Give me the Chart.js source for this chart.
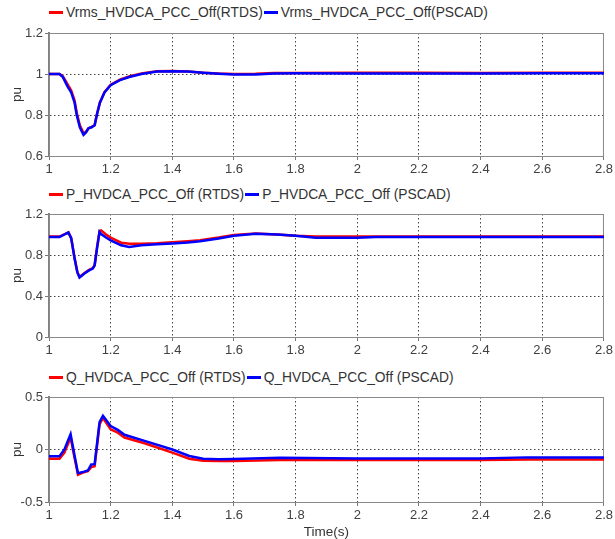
<!DOCTYPE html>
<html lang="en">
<head>
<meta charset="UTF-8">
<title>HVDCA PCC Off</title>
<script src="https://cdn.jsdelivr.net/npm/chart.js@4.4.1/dist/chart.umd.min.js"></script>
<style>
    body { margin: 0; background: #fff; width: 615px; height: 539px; position: relative; overflow: hidden;
        font-family: "Liberation Sans", Arial, sans-serif; }
    canvas { position: absolute; left: 0; }
    .legend { position: absolute; left: 49px; font-size: 13.8px; color: #333; white-space: nowrap; line-height: 16px; }
    .legend .sw { display: inline-block; width: 14px; height: 3px; vertical-align: middle; margin-right: 3px; margin-top: -2px; }
</style>
</head>
<body>
<div class="legend" id="leg1" style="top:5px;"></div>
<div class="legend" id="leg2" style="top:187px;"></div>
<div class="legend" id="leg3" style="top:370px;"></div>
<canvas id="c1" width="615" height="186" style="top:0px;"></canvas>
<canvas id="c2" width="615" height="181" style="top:186px;"></canvas>
<canvas id="c3" width="615" height="172" style="top:367px;"></canvas>

<script>
// Vrms
const tV = [1.00, 1.034, 1.045, 1.06, 1.072, 1.083, 1.09, 1.10, 1.112, 1.12, 1.128, 1.138, 1.148, 1.155, 1.165, 1.18, 1.20, 1.23, 1.26, 1.30, 1.35, 1.40, 1.45, 1.50, 1.55, 1.60, 1.67, 1.73, 1.80, 2.00, 2.20, 2.40, 2.60, 2.80];
const vRtds = [1.0, 1.0, 0.988, 0.95, 0.92, 0.87, 0.81, 0.75, 0.712, 0.718, 0.735, 0.742, 0.75, 0.80, 0.86, 0.912, 0.948, 0.972, 0.988, 1.003, 1.013, 1.015, 1.012, 1.006, 1.002, 1.0, 1.001, 1.005, 1.005, 1.006, 1.006, 1.005, 1.006, 1.006];
const vPscad = [1.0, 1.0, 0.985, 0.94, 0.91, 0.86, 0.80, 0.74, 0.703, 0.715, 0.735, 0.74, 0.75, 0.80, 0.86, 0.91, 0.945, 0.97, 0.985, 1.0, 1.012, 1.014, 1.012, 1.006, 1.001, 0.997, 0.998, 1.003, 1.004, 1.003, 1.003, 1.003, 1.004, 1.004];

// P
const tP = [1.00, 1.034, 1.063, 1.072, 1.083, 1.092, 1.099, 1.115, 1.13, 1.142, 1.148, 1.156, 1.164, 1.169, 1.185, 1.20, 1.234, 1.26, 1.30, 1.35, 1.40, 1.45, 1.49, 1.55, 1.60, 1.67, 1.74, 1.80, 1.865, 2.00, 2.06, 2.20, 2.40, 2.60, 2.80];
const pRtds = [0.98, 0.98, 1.02, 0.965, 0.77, 0.635, 0.585, 0.625, 0.655, 0.672, 0.70, 0.88, 1.035, 1.04, 1.0, 0.97, 0.92, 0.91, 0.91, 0.915, 0.924, 0.935, 0.945, 0.97, 0.995, 1.01, 1.0, 0.987, 0.98, 0.98, 0.98, 0.98, 0.98, 0.98, 0.98];
const pPscad = [0.975, 0.975, 1.02, 0.965, 0.765, 0.63, 0.58, 0.62, 0.65, 0.667, 0.70, 0.87, 1.025, 1.005, 0.97, 0.943, 0.895, 0.878, 0.895, 0.905, 0.913, 0.922, 0.935, 0.96, 0.987, 1.008, 1.0, 0.987, 0.968, 0.968, 0.975, 0.975, 0.975, 0.975, 0.975];

// Q
const tQ = [1.00, 1.034, 1.05, 1.07, 1.083, 1.094, 1.11, 1.126, 1.137, 1.148, 1.164, 1.175, 1.20, 1.223, 1.245, 1.31, 1.40, 1.455, 1.50, 1.55, 1.60, 1.75, 2.00, 2.20, 2.40, 2.55, 2.80];
const qRtds = [-0.087, -0.087, -0.03, 0.114, -0.08, -0.24, -0.22, -0.207, -0.168, -0.16, 0.24, 0.30, 0.192, 0.16, 0.114, 0.06, -0.03, -0.088, -0.106, -0.11, -0.11, -0.10, -0.10, -0.10, -0.10, -0.095, -0.095];
const qPscad = [-0.064, -0.064, 0.0, 0.146, -0.06, -0.225, -0.215, -0.20, -0.143, -0.14, 0.26, 0.32, 0.224, 0.187, 0.14, 0.082, 0.0, -0.062, -0.088, -0.094, -0.09, -0.079, -0.085, -0.085, -0.085, -0.075, -0.075];

const labelsV = ['Vrms_HVDCA_PCC_Off(RTDS)', 'Vrms_HVDCA_PCC_Off(PSCAD)'];
const labelsP = ['P_HVDCA_PCC_Off (RTDS)', 'P_HVDCA_PCC_Off (PSCAD)'];
const labelsQ = ['Q_HVDCA_PCC_Off (RTDS)', 'Q_HVDCA_PCC_Off (PSCAD)'];

const RED = '#ff0000';
const BLUE = '#0000ff';
const FONT = '"Liberation Sans", Arial, sans-serif';

const frame = {
    id: 'frame',
    beforeDatasetsDraw(chart) {
        const a = chart.chartArea, ctx = chart.ctx;
        ctx.save();
        ctx.strokeStyle = '#8a8a8a';
        ctx.lineWidth = 1;
        ctx.strokeRect(a.left + 0.5, a.top + 0.5, a.right - a.left - 1, a.bottom - a.top);
        ctx.restore();
    }
};

function pts(t, v) {
    return t.map((x, i) => ({ x: x, y: v[i] }));
}

function fmt(v) {
    return String(+v.toFixed(2));
}

function makeChart(id, legId, t, red, blue, labels, ymin, ymax, ystep, padTop, xHeight, showTime) {
    // blue (PSCAD) is drawn over red (RTDS): lower order = drawn later
    const datasets = [
        { label: labels[0], data: pts(t, red), borderColor: RED, order: 2 },
        { label: labels[1], data: pts(t, blue), borderColor: BLUE, order: 1 }
    ];
    document.getElementById(legId).innerHTML = datasets.map((d, i) =>
        `<span class="sw" style="background:${d.borderColor};${i ? 'margin-left:1px' : ''}"></span>${d.label}`).join('');

    const grid = { color: '#444', lineWidth: 1, tickLength: 4, tickColor: '#777', tickBorderDash: [] };
    new Chart(document.getElementById(id), {
        type: 'line',
        data: { datasets: datasets },
        options: {
            responsive: false,
            animation: false,
            layout: { padding: { top: padTop, right: 10, left: 0, bottom: 0 } },
            elements: {
                point: { radius: 0 },
                line: { borderWidth: 2.5, tension: 0, fill: false }
            },
            plugins: { legend: { display: false }, tooltip: { enabled: false } },
            scales: {
                x: {
                    type: 'linear', min: 1, max: 2.8,
                    ticks: { stepSize: 0.2, color: '#404040', padding: 2, maxRotation: 0, callback: fmt,
                        font: { family: FONT, size: 13 } },
                    grid: grid,
                    border: { display: true, color: '#8a8a8a', width: 1, dash: [1.5, 2.5] },
                    title: { display: showTime, text: 'Time(s)', color: '#333', padding: 0,
                        font: { family: FONT, size: 13.5, lineHeight: 1 } },
                    afterFit(scale) { scale.height = xHeight; }
                },
                y: {
                    min: ymin, max: ymax,
                    ticks: { stepSize: ystep, color: '#404040', padding: 2, callback: fmt,
                        font: { family: FONT, size: 13 } },
                    grid: grid,
                    border: { display: true, color: '#808080', width: 2, dash: [1.5, 2.5] },
                    title: { display: true, text: 'pu', color: '#333', padding: { top: 11, bottom: 0 },
                        font: { family: FONT, size: 13.5, lineHeight: 1 } },
                    afterFit(scale) { scale.width = 49; }
                }
            }
        },
        plugins: [frame]
    });
}

makeChart('c1', 'leg1', tV, vRtds, vPscad, labelsV, 0.6, 1.2, 0.2, 33, 30, false);
makeChart('c2', 'leg2', tP, pRtds, pPscad, labelsP, 0, 1.2, 0.4, 28, 30, false);
makeChart('c3', 'leg3', tQ, qRtds, qPscad, labelsQ, -0.5, 0.5, 0.5, 30, 37, true);
</script>
</body>
</html>
